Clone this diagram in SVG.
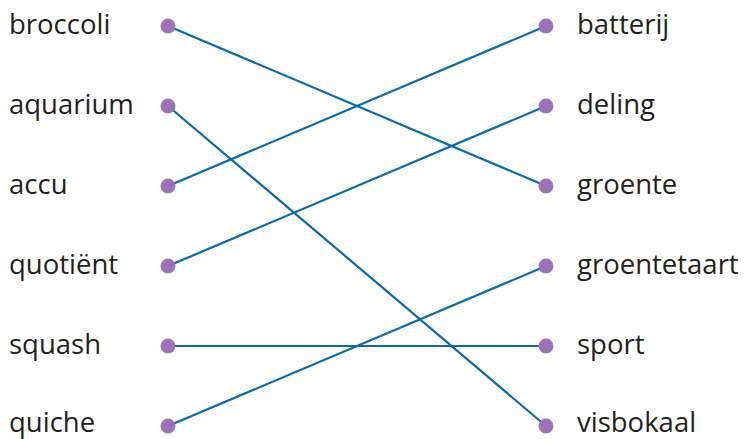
<svg xmlns="http://www.w3.org/2000/svg" width="749" height="439" viewBox="0 0 749 439">
<style>
text{font-family:"Open Sans","Noto Sans",sans-serif;font-size:27.5px;fill:#231f20}
.d{fill:#9b72b6}
#connectors line{stroke:#0a6aaa;stroke-width:2.2}
</style>
<rect width="749" height="439" fill="#fff"/>
<g id="connectors">
<line x1="168" y1="26" x2="546" y2="186"/>
<line x1="168" y1="106" x2="546" y2="426"/>
<line x1="168" y1="186" x2="546" y2="26"/>
<line x1="168" y1="266" x2="546" y2="106"/>
<line x1="168" y1="346" x2="546" y2="346"/>
<line x1="168" y1="426" x2="546" y2="266"/>
</g>
<g id="l1"><text x="9" y="34">broccoli</text><circle class="d" cx="168" cy="26" r="7.5"/></g>
<g id="l2"><text x="9" y="114">aquarium</text><circle class="d" cx="168" cy="106" r="7.5"/></g>
<g id="l3"><text x="9" y="194">accu</text><circle class="d" cx="168" cy="186" r="7.5"/></g>
<g id="l4"><text x="9" y="274">quotiënt</text><circle class="d" cx="168" cy="266" r="7.5"/></g>
<g id="l5"><text x="9" y="354">squash</text><circle class="d" cx="168" cy="346" r="7.5"/></g>
<g id="l6"><text x="9" y="432">quiche</text><circle class="d" cx="168" cy="426" r="7.5"/></g>
<g id="r1"><circle class="d" cx="546" cy="26" r="7.5"/><text x="577" y="34">batterij</text></g>
<g id="r2"><circle class="d" cx="546" cy="106" r="7.5"/><text x="577" y="114">deling</text></g>
<g id="r3"><circle class="d" cx="546" cy="186" r="7.5"/><text x="577" y="194">groente</text></g>
<g id="r4"><circle class="d" cx="546" cy="266" r="7.5"/><text x="577" y="274">groentetaart</text></g>
<g id="r5"><circle class="d" cx="546" cy="346" r="7.5"/><text x="577" y="354">sport</text></g>
<g id="r6"><circle class="d" cx="546" cy="426" r="7.5"/><text x="577" y="432">visbokaal</text></g>
</svg>
